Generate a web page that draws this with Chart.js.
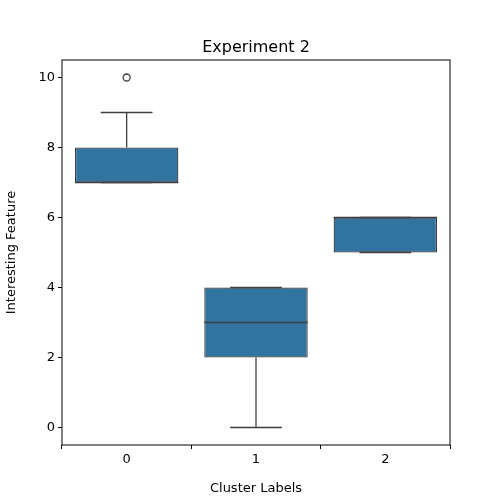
<!DOCTYPE html>
<html><head><script src="https://cdn.jsdelivr.net/npm/chart.js@4"></script>
<style>body{margin:0}#w{width:500px;height:500px}</style></head>
<body><div id="w"><canvas id="c"></canvas></div>
<script>
const categories=['0','1','2'];
const q1=[7,2,5];
const q3=[8,4,6];
const medians=[7,3,6];
const whiskerLow=[7,0,5];
const whiskerHigh=[9,4,6];
const outliers=[[10],[],[]];
const yTicks=[0,2,4,6,8,10];
const edge='#3f3f3f';
const boxPlugin={id:'box',afterDatasetsDraw(ch){
 const ctx=ch.ctx,x=ch.scales.x,y=ch.scales.y,a=ch.chartArea;
 const meta=ch.getDatasetMeta(0);
 ctx.save();ctx.strokeStyle=edge;ctx.lineWidth=1.3;
 categories.forEach((c,i)=>{
  const bar=meta.data[i];const cx=x.getPixelForValue(i);const hw=bar.width/2;
  const seg=(x1,y1,x2,y2)=>{ctx.beginPath();ctx.moveTo(x1,y1);ctx.lineTo(x2,y2);ctx.stroke();};
  seg(cx,y.getPixelForValue(q3[i]),cx,y.getPixelForValue(whiskerHigh[i]));
  seg(cx,y.getPixelForValue(q1[i]),cx,y.getPixelForValue(whiskerLow[i]));
  seg(cx-hw/2,y.getPixelForValue(whiskerHigh[i]),cx+hw/2,y.getPixelForValue(whiskerHigh[i]));
  seg(cx-hw/2,y.getPixelForValue(whiskerLow[i]),cx+hw/2,y.getPixelForValue(whiskerLow[i]));
  seg(cx-hw,y.getPixelForValue(medians[i]),cx+hw,y.getPixelForValue(medians[i]));
  outliers[i].forEach(v=>{ctx.beginPath();ctx.arc(cx,y.getPixelForValue(v),3.5,0,Math.PI*2);ctx.stroke();});
 });
 ctx.strokeStyle='#000';ctx.lineWidth=1;ctx.strokeRect(a.left,a.top,a.right-a.left,a.bottom-a.top);
 ctx.fillStyle='#000';ctx.font='16px "DejaVu Sans"';ctx.textAlign='center';ctx.textBaseline='alphabetic';
 ctx.fillText('Experiment 2',(a.left+a.right)/2,52);
 ctx.restore();
}};
new Chart(document.getElementById('c'),{
 type:'bar',
 data:{labels:categories,datasets:[{data:q1.map((v,i)=>[v,q3[i]]),backgroundColor:'#3274a1',borderColor:edge,borderWidth:1.3,borderSkipped:false,barPercentage:0.8,categoryPercentage:1}]},
 options:{responsive:true,maintainAspectRatio:false,animation:false,
  layout:{padding:{top:60,right:50,left:0,bottom:0}},
  plugins:{legend:{display:false},tooltip:{enabled:false}},
  scales:{
   x:{grid:{display:true,drawOnChartArea:false,tickLength:4,color:'#000'},border:{display:false},
      ticks:{color:'#000',font:{family:'DejaVu Sans',size:13}},
      title:{display:true,text:'Cluster Labels',color:'#000',font:{family:'DejaVu Sans',size:13}},
      afterFit(s){s.height=55;}},
   y:{min:-0.5,max:10.5,grid:{display:true,drawOnChartArea:false,tickLength:4,color:'#000'},border:{display:false},
      afterBuildTicks(s){s.ticks=yTicks.map(v=>({value:v}));},
      ticks:{color:'#000',font:{family:'DejaVu Sans',size:13}},
      title:{display:true,text:'Interesting Feature',color:'#000',font:{family:'DejaVu Sans',size:13}},
      afterFit(s){s.width=62;}}
  }},
 plugins:[boxPlugin]
});
</script></body></html>
